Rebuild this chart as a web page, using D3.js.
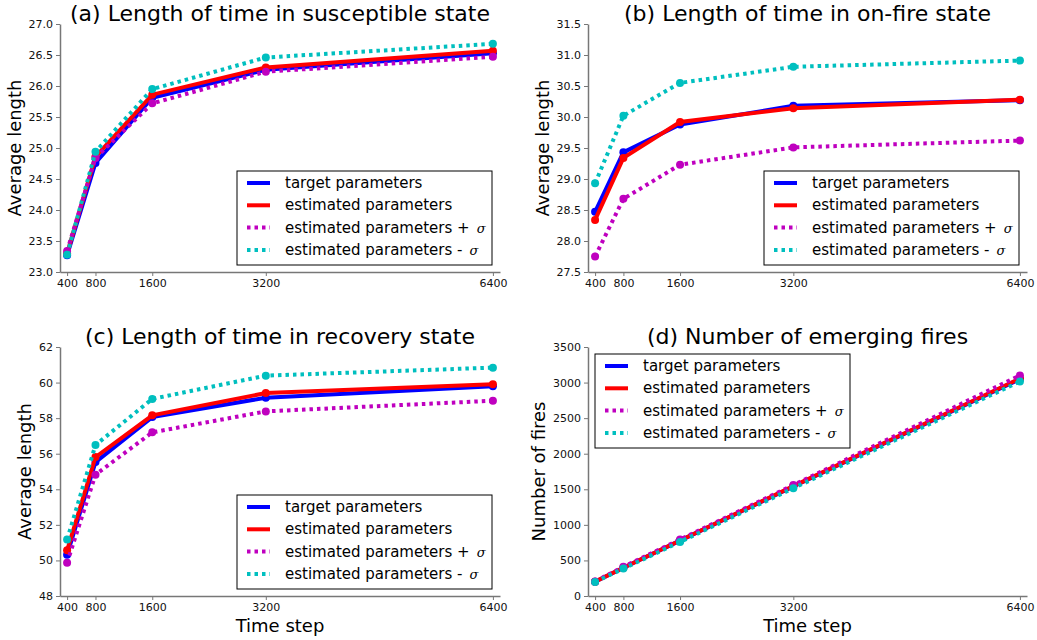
<!DOCTYPE html>
<html>
<head>
<meta charset="utf-8">
<script src="https://cdn.jsdelivr.net/npm/d3@7"></script>
<style>
body { margin: 0; background: #fff; }
text { font-family: 'DejaVu Sans', sans-serif; }
</style>
</head>
<body>
<script>
// Data
const timeSteps = [400, 800, 1600, 3200, 6400]
const seriesLabels = ['target parameters', 'estimated parameters', 'estimated parameters +', 'estimated parameters -']

// (a) susceptible state
const suscTarget = [23.27, 24.76, 25.81, 26.26, 26.53]
const suscEstimated = [23.30, 24.86, 25.86, 26.30, 26.57]
const suscPlus = [23.34, 24.84, 25.72, 26.23, 26.47]
const suscMinus = [23.28, 24.94, 25.95, 26.46, 26.68]
const suscTicks = [23.0, 23.5, 24.0, 24.5, 25.0, 25.5, 26.0, 26.5, 27.0]

// (b) on-fire state
const fireTarget = [28.47, 29.43, 29.88, 30.18, 30.27]
const fireEstimated = [28.34, 29.34, 29.92, 30.14, 30.28]
const firePlus = [27.75, 28.68, 29.23, 29.51, 29.62]
const fireMinus = [28.93, 30.02, 30.55, 30.81, 30.91]
const fireTicks = [27.5, 28.0, 28.5, 29.0, 29.5, 30.0, 30.5, 31.0, 31.5]

// (c) recovery state
const recTarget = [50.32, 55.53, 58.06, 59.15, 59.79]
const recEstimated = [50.57, 55.81, 58.16, 59.41, 59.90]
const recPlus = [49.87, 54.82, 57.20, 58.38, 58.98]
const recMinus = [51.17, 56.49, 59.08, 60.39, 60.84]
const recTicks = [48, 50, 52, 54, 56, 58, 60, 62]

// (d) emerging fires
const firesTarget = [200, 396, 778, 1540, 3050]
const firesEstimated = [202, 398, 780, 1545, 3058]
const firesPlus = [205, 410, 793, 1560, 3100]
const firesMinus = [198, 385, 760, 1515, 3015]
const firesTicks = [0, 500, 1000, 1500, 2000, 2500, 3000, 3500]

const colors = ['#0000ff', '#ff0000', '#bf00bf', '#00bfbf']
const dotted = [false, false, true, true]

const panels = [
    { title: '(a) Length of time in susceptible state', ylabel: 'Average length', xlabel: null,
      series: [suscTarget, suscEstimated, suscPlus, suscMinus], ticks: suscTicks, fmt: '.1f',
      box: { left: 60, top: 24, right: 500, bottom: 272 }, legend: 'lowerRight' },
    { title: '(b) Length of time in on-fire state', ylabel: 'Average length', xlabel: null,
      series: [fireTarget, fireEstimated, firePlus, fireMinus], ticks: fireTicks, fmt: '.1f',
      box: { left: 588, top: 24, right: 1027, bottom: 272 }, legend: 'lowerRight' },
    { title: '(c) Length of time in recovery state', ylabel: 'Average length', xlabel: 'Time step',
      series: [recTarget, recEstimated, recPlus, recMinus], ticks: recTicks, fmt: 'd',
      box: { left: 60, top: 347, right: 500, bottom: 596 }, legend: 'lowerRight' },
    { title: '(d) Number of emerging fires', ylabel: 'Number of fires', xlabel: 'Time step',
      series: [firesTarget, firesEstimated, firesPlus, firesMinus], ticks: firesTicks, fmt: 'd',
      box: { left: 588, top: 347, right: 1027, bottom: 596 }, legend: 'upperLeft' },
]

const svg = d3.select('body').append('svg')
    .attr('width', 1037)
    .attr('height', 640)

const legendW = 255
const legendH = 94

panels.forEach(p => {
    const b = p.box
    const x = d3.scaleLinear().domain([300, 6500]).range([b.left, b.right])
    const y = d3.scaleLinear().domain(d3.extent(p.ticks)).range([b.bottom, b.top])
    const g = svg.append('g')

    // Lines, then markers, one series at a time
    const line = d3.line()
        .x((d, i) => x(timeSteps[i]))
        .y(d => y(d))
    p.series.forEach((vals, k) => {
        g.append('path')
            .datum(vals)
            .attr('d', line)
            .style('fill', 'none')
            .style('stroke', colors[k])
            .style('stroke-width', 4)
            .style('stroke-dasharray', dotted[k] ? '3.5,4' : null)
        g.selectAll(null)
            .data(vals)
            .join('circle')
            .attr('cx', (d, i) => x(timeSteps[i]))
            .attr('cy', d => y(d))
            .attr('r', 4)
            .style('fill', colors[k])
    })

    // Axes
    const xAxis = g.append('g')
        .attr('transform', `translate(0, ${b.bottom})`)
        .call(d3.axisBottom(x).tickValues(timeSteps).tickFormat(d3.format('d'))
            .tickSize(4).tickSizeOuter(0).tickPadding(3))
    const yAxis = g.append('g')
        .attr('transform', `translate(${b.left}, 0)`)
        .call(d3.axisLeft(y).tickValues(p.ticks).tickFormat(d3.format(p.fmt))
            .tickSize(4).tickSizeOuter(0).tickPadding(3))
    ;[xAxis, yAxis].forEach(a => {
        a.select('.domain').attr('stroke', '#777').attr('stroke-width', 1.5)
        a.selectAll('.tick line').attr('stroke', '#777').attr('stroke-width', 1)
        a.selectAll('.tick text')
            .attr('fill', '#111')
            .style('font-size', '11px')
            .style('font-family', "'DejaVu Sans', sans-serif")
    })

    // Title and labels
    g.append('text')
        .attr('x', (b.left + b.right) / 2)
        .attr('y', b.top - 3.5)
        .attr('text-anchor', 'middle')
        .style('font-size', '22px')
        .text(p.title)

    const yb = yAxis.node().getBBox()
    const lx = b.left + yb.x - 8
    g.append('text')
        .attr('transform', `translate(${lx}, ${(b.top + b.bottom) / 2}) rotate(-90)`)
        .attr('text-anchor', 'middle')
        .style('font-size', '18px')
        .text(p.ylabel)

    if (p.xlabel) {
        g.append('text')
            .attr('x', (b.left + b.right) / 2)
            .attr('y', b.bottom + 36)
            .attr('text-anchor', 'middle')
            .style('font-size', '18px')
            .text(p.xlabel)
    }

    // Legend
    const lgX = p.legend === 'lowerRight' ? b.right - 8 - legendW : b.left + 7
    const lgY = p.legend === 'lowerRight' ? b.bottom - 7 - legendH : b.top + 7
    const lg = g.append('g').attr('transform', `translate(${lgX}, ${lgY})`)
    lg.append('rect')
        .attr('width', legendW)
        .attr('height', legendH)
        .style('fill', '#fff')
        .style('stroke', '#000')
        .style('stroke-width', 1)
    seriesLabels.forEach((label, k) => {
        const ry = 12 + k * 22.3
        lg.append('line')
            .attr('x1', 10).attr('x2', 33)
            .attr('y1', ry).attr('y2', ry)
            .style('stroke', colors[k])
            .style('stroke-width', 4)
            .style('stroke-dasharray', dotted[k] ? '3.5,4' : null)
        const t = lg.append('text')
            .attr('x', 48)
            .attr('y', ry + 5)
            .style('font-size', '15px')
            .text(label)
        if (k >= 2) {
            t.append('tspan')
                .attr('dx', 7)
                .style('font-family', "'DejaVu Serif', serif")
                .style('font-style', 'italic')
                .style('font-size', '13px')
                .text('σ')
        }
    })
})
</script>
</body>
</html>
